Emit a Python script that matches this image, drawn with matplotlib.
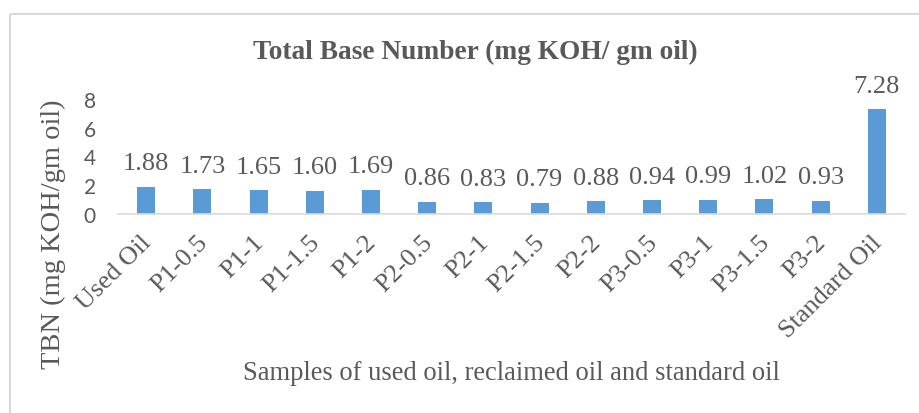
import matplotlib.pyplot as plt
from matplotlib.patches import Rectangle
from matplotlib.transforms import ScaledTranslation

samples = ['Used Oil', 'P1-0.5', 'P1-1', 'P1-1.5', 'P1-2', 'P2-0.5', 'P2-1',
           'P2-1.5', 'P2-2', 'P3-0.5', 'P3-1', 'P3-1.5', 'P3-2', 'Standard Oil']
tbn = [1.88, 1.73, 1.65, 1.60, 1.69, 0.86, 0.83, 0.79, 0.88, 0.94, 0.99, 1.02,
       0.93, 7.28]
y_ticks = [0, 2, 4, 6, 8]

W, H = 920, 414
text_color = '#595959'
serif = 'Liberation Serif'

fig = plt.figure(figsize=(W / 100, H / 100), dpi=100)

# chart frame (only top and left edges visible in the crop)
fig.patches.append(Rectangle((10 / W, 1 - 15 / H), 2, -2, transform=fig.transFigure,
                             fill=False, edgecolor='#D9D9D9', linewidth=1.5))

# axes: x 118..905 px, y 100..215 px (top to bottom)
ax = fig.add_axes([118 / W, 1 - 215 / H, (905 - 118) / W, (215 - 100) / H])
x = range(len(samples))
ax.bar(x, tbn, width=0.32, color='#5B9BD5')
ax.set_xlim(-0.5, len(samples) - 0.5)
ax.set_ylim(0, 8)
ax.set_yticks(y_ticks)
ax.set_yticklabels([str(t) for t in y_ticks], family='Lato', fontsize=15,
                   color=text_color)
ax.set_xticks(list(x))
ax.set_xticklabels(samples, rotation=45, ha='right', va='top',
                   rotation_mode='anchor', family=serif, fontsize=19,
                   color=text_color)
ax.tick_params(axis='y', length=0, pad=16)
ax.tick_params(axis='x', length=0, pad=12)
# nudge the slanted labels a little to the left, like the original
shift = ScaledTranslation(-6 / 100, 0, fig.dpi_scale_trans)
for lbl in ax.get_xticklabels():
    lbl.set_transform(lbl.get_transform() + shift)
for side in ['top', 'right', 'left']:
    ax.spines[side].set_visible(False)
ax.spines['bottom'].set_color('#D9D9D9')
ax.spines['bottom'].set_linewidth(1.2)

for xi, v in zip(x, tbn):
    ax.annotate(f'{v:.2f}', (xi, v), xytext=(0, 9), textcoords='offset points',
                ha='center', va='bottom', family=serif, fontsize=19,
                color=text_color, annotation_clip=False)

fig.text(475 / W, 1 - 52 / H, 'Total Base Number (mg KOH/ gm oil)', ha='center',
         va='center', family=serif, fontweight='bold', fontsize=19.7,
         color=text_color)
fig.text(511 / W, 1 - 374 / H, 'Samples of used oil, reclaimed oil and standard oil',
         ha='center', va='center', family=serif, fontsize=19.1, color=text_color)
fig.text(53 / W, 1 - 234 / H, 'TBN (mg KOH/gm oil)', ha='center', va='center',
         rotation=90, family=serif, fontsize=20.5, color=text_color)

fig.savefig('out.png', dpi=100)
